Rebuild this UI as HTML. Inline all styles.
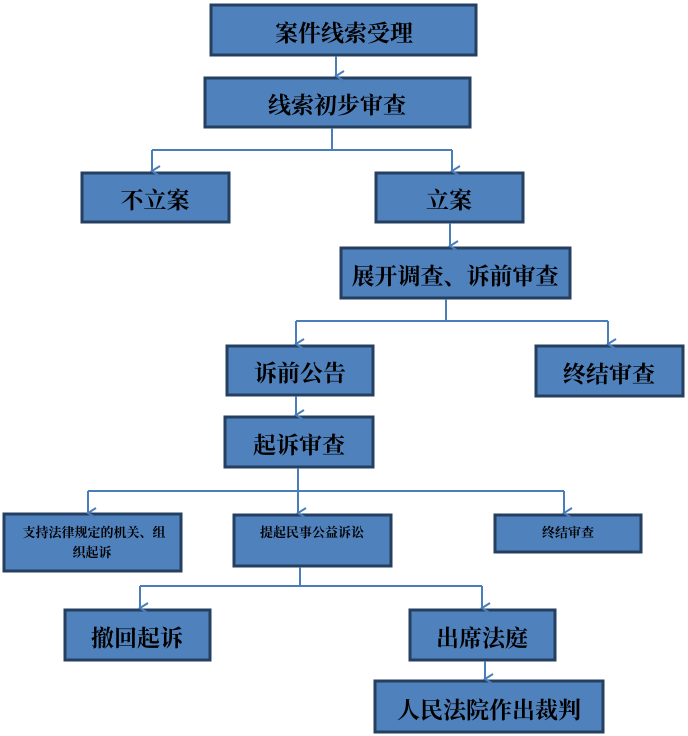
<!DOCTYPE html>
<html><head><meta charset="utf-8"><style>
html,body{margin:0;padding:0;background:#fff;width:688px;height:736px;overflow:hidden}
text{font-family:"Liberation Serif","Noto Serif CJK SC",serif;fill:#000}
</style></head><body>
<svg width="688" height="736" xmlns="http://www.w3.org/2000/svg">
<defs><marker id="a" markerWidth="12" markerHeight="12" refX="6" refY="10" orient="auto" markerUnits="userSpaceOnUse"><path d="M1,2 L6,10 L11,2" fill="none" stroke="#4a7ebb" stroke-width="2"/></marker></defs>
<g fill="#4f81bd" stroke="#243f60" stroke-width="3">
<rect x="211" y="5" width="265" height="50"/>
<rect x="205" y="78" width="265" height="49"/>
<rect x="82" y="173" width="147" height="49"/>
<rect x="376" y="173" width="147" height="49"/>
<rect x="341" y="248" width="229" height="50"/>
<rect x="227" y="346" width="146" height="49"/>
<rect x="536" y="346" width="147" height="50"/>
<rect x="225" y="417" width="148" height="50"/>
<rect x="4" y="514" width="177" height="57"/>
<rect x="234" y="515" width="157" height="51"/>
<rect x="495" y="515" width="146" height="37"/>
<rect x="65" y="610" width="145" height="50"/>
<rect x="410" y="610" width="145" height="50"/>
<rect x="375" y="681" width="228" height="51"/>
</g>
<g fill="none" stroke="#4a7ebb" stroke-width="2">
<path d="M336 56 V76" marker-end="url(#a)"/>
<path d="M332 128 V150 M152 150 H452"/>
<path d="M152 150 V171" marker-end="url(#a)"/>
<path d="M452 150 V171" marker-end="url(#a)"/>
<path d="M450 223 V246" marker-end="url(#a)"/>
<path d="M446 299 V321 M296 321 H608"/>
<path d="M296 321 V344" marker-end="url(#a)"/>
<path d="M608 321 V344" marker-end="url(#a)"/>
<path d="M296 396 V415" marker-end="url(#a)"/>
<path d="M298 468 V491 M88 491 H564"/>
<path d="M88 491 V513" marker-end="url(#a)"/>
<path d="M298 491 V513" marker-end="url(#a)"/>
<path d="M564 491 V513" marker-end="url(#a)"/>
<path d="M300 567 V585 M140 586 H482"/>
<path d="M140 586 V608" marker-end="url(#a)"/>
<path d="M482 586 V608" marker-end="url(#a)"/>
<path d="M485 661 V679" marker-end="url(#a)"/>
</g>
<g font-size="23" text-anchor="middle" font-weight="bold">
<text x="344" y="41">案件线索受理</text>
<text x="337" y="113">线索初步审查</text>
<text x="155" y="208">不立案</text>
<text x="449" y="208">立案</text>
<text x="455" y="284">展开调查、诉前审查</text>
<text x="300" y="381">诉前公告</text>
<text x="609" y="382">终结审查</text>
<text x="299" y="453">起诉审查</text>
<text x="137" y="646">撤回起诉</text>
<text x="482" y="646">出席法庭</text>
<text x="489" y="718">人民法院作出裁判</text>
</g>
<g font-size="13" text-anchor="middle" font-weight="bold">
<text x="94" y="537">支持法律规定的机关、组</text>
<text x="92" y="557">织起诉</text>
<text x="312" y="537">提起民事公益诉讼</text>
<text x="568" y="537">终结审查</text>
</g>
</svg>
</body></html>
